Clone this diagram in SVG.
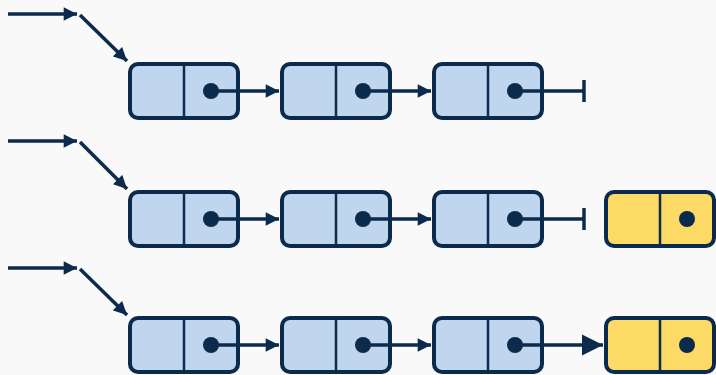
<svg xmlns="http://www.w3.org/2000/svg" width="716" height="375" viewBox="0 0 716 375">
  <style>
    .cell { stroke: #0b2a4c; stroke-width: 4; }
    .blue { fill: #bfd6ee; }
    .yellow { fill: #fdd966; }
    .div { stroke: #0b2a4c; stroke-width: 2.5; }
    .dot { fill: #0b2a4c; }
    .wire { stroke: #0b2a4c; stroke-width: 3.5; fill: none; }
  </style>
  <defs>
    <marker id="head" viewBox="0 0 10 10" refX="10" refY="5" markerWidth="4.2" markerHeight="3.8" orient="auto" markerUnits="strokeWidth">
      <path d="M0,0 L10,5 L0,10 Z" fill="#0b2a4c"/>
    </marker>
    <marker id="bighead" viewBox="0 0 10 10" refX="10" refY="5" markerWidth="6" markerHeight="6.4" orient="auto" markerUnits="strokeWidth">
      <path d="M0,0 L10,5 L0,10 Z" fill="#0b2a4c"/>
    </marker>
  </defs>
  <rect width="716" height="375" fill="#f9f9f9"/>

  <!-- row 1 -->
  <g id="r1n1"><rect class="cell blue" x="130" y="64" width="108" height="54" rx="8"/><line class="div" x1="184" y1="64" x2="184" y2="118"/><circle class="dot" cx="211" cy="91" r="8"/></g>
  <g id="r1n2"><rect class="cell blue" x="282" y="64" width="108" height="54" rx="8"/><line class="div" x1="336" y1="64" x2="336" y2="118"/><circle class="dot" cx="363" cy="91" r="8"/></g>
  <g id="r1n3"><rect class="cell blue" x="434" y="64" width="108" height="54" rx="8"/><line class="div" x1="488" y1="64" x2="488" y2="118"/><circle class="dot" cx="515" cy="91" r="8"/></g>

  <!-- row 2 -->
  <g id="r2n1"><rect class="cell blue" x="130" y="192" width="108" height="54" rx="8"/><line class="div" x1="184" y1="192" x2="184" y2="246"/><circle class="dot" cx="211" cy="219" r="8"/></g>
  <g id="r2n2"><rect class="cell blue" x="282" y="192" width="108" height="54" rx="8"/><line class="div" x1="336" y1="192" x2="336" y2="246"/><circle class="dot" cx="363" cy="219" r="8"/></g>
  <g id="r2n3"><rect class="cell blue" x="434" y="192" width="108" height="54" rx="8"/><line class="div" x1="488" y1="192" x2="488" y2="246"/><circle class="dot" cx="515" cy="219" r="8"/></g>
  <g id="r2n4"><rect class="cell yellow" x="606" y="192" width="108" height="54" rx="8"/><line class="div" x1="660" y1="192" x2="660" y2="246"/><circle class="dot" cx="687" cy="219" r="8"/></g>

  <!-- row 3 -->
  <g id="r3n1"><rect class="cell blue" x="130" y="318" width="108" height="54" rx="8"/><line class="div" x1="184" y1="318" x2="184" y2="372"/><circle class="dot" cx="211" cy="345" r="8"/></g>
  <g id="r3n2"><rect class="cell blue" x="282" y="318" width="108" height="54" rx="8"/><line class="div" x1="336" y1="318" x2="336" y2="372"/><circle class="dot" cx="363" cy="345" r="8"/></g>
  <g id="r3n3"><rect class="cell blue" x="434" y="318" width="108" height="54" rx="8"/><line class="div" x1="488" y1="318" x2="488" y2="372"/><circle class="dot" cx="515" cy="345" r="8"/></g>
  <g id="r3n4"><rect class="cell yellow" x="606" y="318" width="108" height="54" rx="8"/><line class="div" x1="660" y1="318" x2="660" y2="372"/><circle class="dot" cx="687" cy="345" r="8"/></g>

  <g id="connectors" class="wire">
    <!-- head pointers -->
    <line x1="8" y1="14" x2="77" y2="14" marker-end="url(#head)"/>
    <line x1="80" y1="15" x2="127" y2="61" marker-end="url(#head)"/>
    <line x1="8" y1="141" x2="77" y2="141" marker-end="url(#head)"/>
    <line x1="80" y1="142" x2="127" y2="189" marker-end="url(#head)"/>
    <line x1="8" y1="268" x2="77" y2="268" marker-end="url(#head)"/>
    <line x1="80" y1="269" x2="127" y2="315" marker-end="url(#head)"/>

    <!-- row 1 links -->
    <line x1="211" y1="91" x2="279" y2="91" marker-end="url(#head)"/>
    <line x1="363" y1="91" x2="431" y2="91" marker-end="url(#head)"/>
    <line x1="515" y1="91" x2="584" y2="91"/>
    <line x1="584" y1="80" x2="584" y2="102"/>

    <!-- row 2 links -->
    <line x1="211" y1="219" x2="279" y2="219" marker-end="url(#head)"/>
    <line x1="363" y1="219" x2="431" y2="219" marker-end="url(#head)"/>
    <line x1="515" y1="219" x2="584" y2="219"/>
    <line x1="584" y1="208" x2="584" y2="230"/>

    <!-- row 3 links -->
    <line x1="211" y1="345" x2="279" y2="345" marker-end="url(#head)"/>
    <line x1="363" y1="345" x2="431" y2="345" marker-end="url(#head)"/>
    <line x1="515" y1="345" x2="603" y2="345" marker-end="url(#bighead)"/>
  </g>
</svg>
